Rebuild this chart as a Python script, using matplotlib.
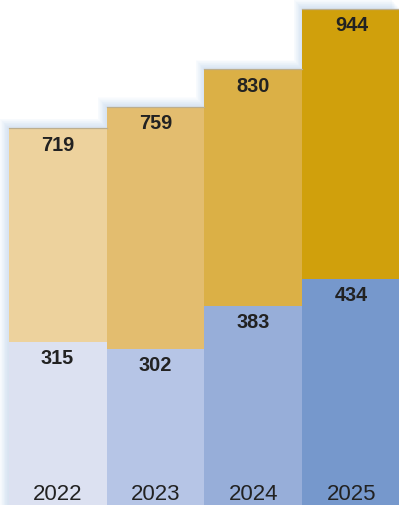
import matplotlib
matplotlib.use("Agg")
import matplotlib.pyplot as plt
import numpy as np

# ---------------------------------------------------------------------------
# Data
# ---------------------------------------------------------------------------
years = ["2022", "2023", "2024", "2025"]
lower_vals = [315, 302, 383, 434]
total_vals = [719, 759, 830, 944]

lower_colors = ["#dce1f1", "#b6c5e6", "#97aed9", "#7698cc"]
upper_colors = ["#edd29d", "#e3bd6f", "#dbb046", "#d0a00c"]

upper_vals = [t - b for t, b in zip(total_vals, lower_vals)]

# ---------------------------------------------------------------------------
# Figure
# ---------------------------------------------------------------------------
fig = plt.figure(figsize=(3.99, 5.06), dpi=100)
ax = fig.add_axes([0, 0, 1, 1])
ax.set_xlim(-0.587, 3.485)
ax.set_ylim(7.3, 962.9)
ax.axis("off")

x = np.arange(len(years))

# soft blue glow behind the bars (towards upper-left)
for s in np.linspace(0.01, 0.18, 14):
    ax.bar(x - s * 0.5, np.array(total_vals) + s * 100, width=1.0,
           color="#b4d0ea", alpha=0.045, lw=0, zorder=1)

ax.bar(x, lower_vals, width=1.0, color=lower_colors, lw=0, zorder=2)
ax.bar(x, upper_vals, width=1.0, bottom=lower_vals, color=upper_colors,
       lw=0, zorder=2)

# thin edge at top of each bar
for xi, t in zip(x, total_vals):
    ax.plot([xi - 0.5, xi + 0.5], [t, t], color="#bcae8e", lw=0.9, zorder=3)

font = "Liberation Sans"
for xi, t, b, yr in zip(x, total_vals, lower_vals, years):
    ax.text(xi, t - 30, str(t), ha="center", va="center", fontsize=14.3,
            fontweight="bold", color="#222222", family=font, zorder=4)
    ax.text(xi, b - 30, str(b), ha="center", va="center", fontsize=14.3,
            fontweight="bold", color="#222222", family=font, zorder=4)
    ax.text(xi, 9, yr, ha="center", va="bottom", fontsize=16,
            color="#222222", family=font, zorder=4)

fig.savefig("out.png", dpi=100)
